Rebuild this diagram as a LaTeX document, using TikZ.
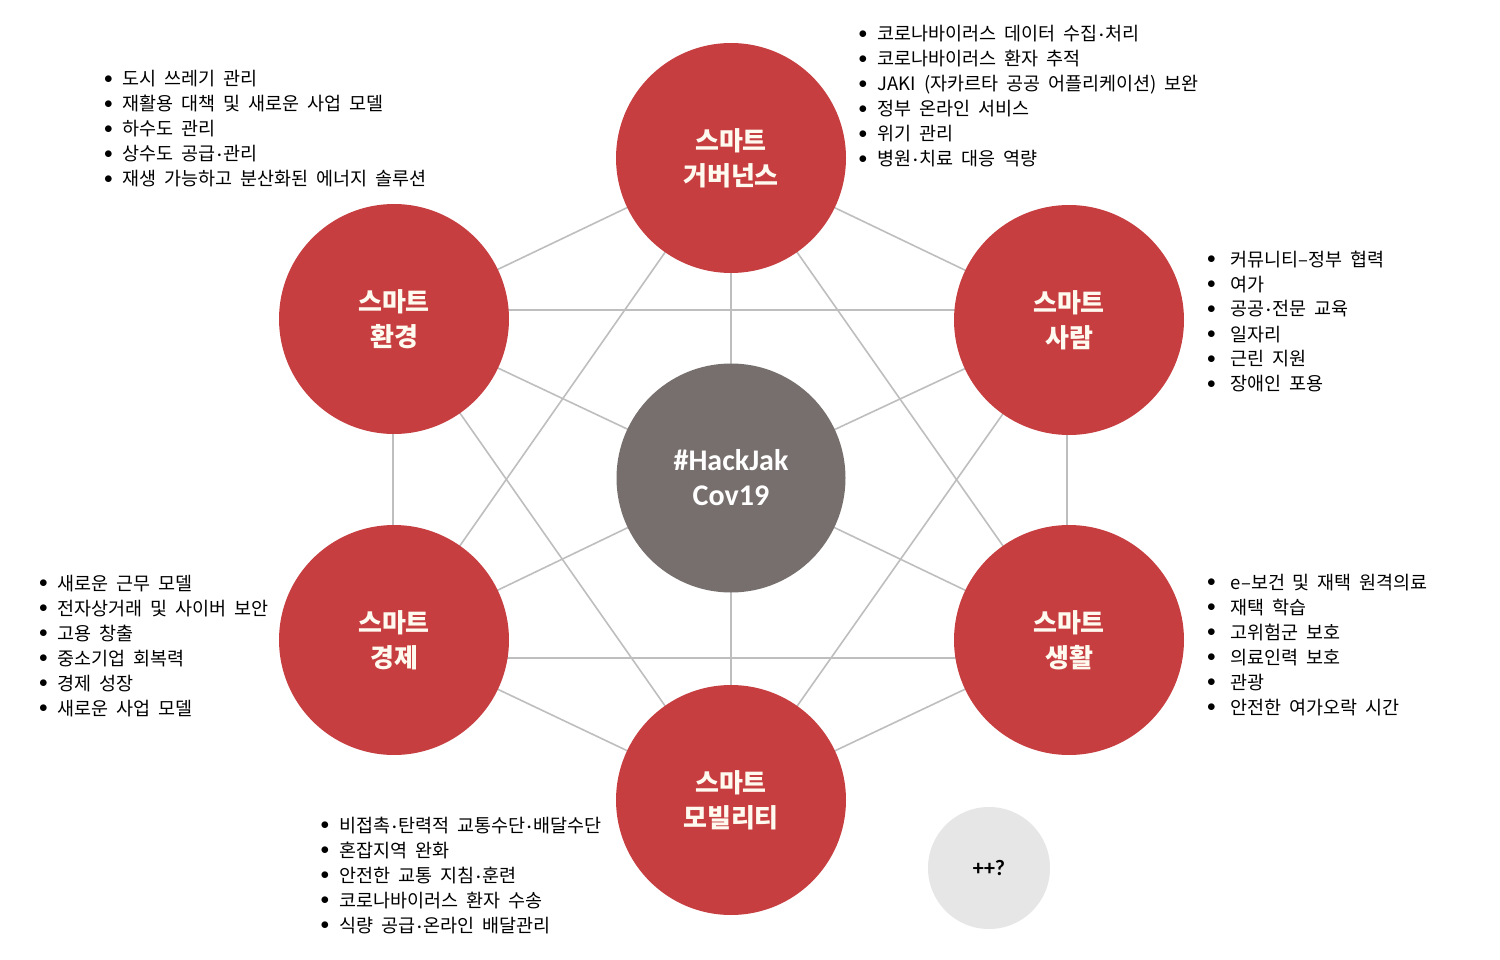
\documentclass[tikz,border=0pt]{standalone}
\usepackage{fontspec}
\setmainfont{Noto Sans CJK KR}
\newfontfamily\listfont[WordSpace=1.9]{Noto Sans CJK KR}
\newfontfamily\latinf{Carlito}
\usetikzlibrary{backgrounds}
\definecolor{smartred}{RGB}{199,62,65}
\definecolor{hubgray}{RGB}{118,111,109}
\definecolor{morefill}{RGB}{230,230,230}
\definecolor{linegray}{RGB}{190,190,190}
\definecolor{cream}{RGB}{255,250,240}
\tikzset{
  hubnode/.style={circle, fill=hubgray, minimum size=229pt, inner sep=0pt, text=white,
    font=\latinf\bfseries\fontsize{30}{35}\selectfont, align=center},
  smart/.style={circle, fill=smartred, minimum size=230pt, inner sep=0pt, text=cream,
    font=\bfseries\fontsize{26}{35}\selectfont, align=center},
  morenode/.style={circle, fill=morefill, minimum size=122pt, inner sep=0pt, text=black,
    font=\latinf\bfseries\fontsize{22}{26}\selectfont},
  link/.style={draw=linegray, line width=1.6pt},
  blist/.style={anchor=base west, inner sep=0pt, outer sep=0pt, text=black,
    font=\listfont\fontsize{18.5}{25}\selectfont},
}
\newcommand\bul{\raisebox{2.5pt}{$\bullet$}}
\newcommand\md{\hspace{1.5pt}{\latinf ·}\hspace{1.5pt}}
\begin{document}
\begin{tikzpicture}[x=1pt,y=-1pt]
\useasboundingbox (0,0) rectangle (1500,960);

\node[smart] (gov) at (731,158) {스마트\\거버넌스};
\node[smart] (env) at (394,319) {스마트\\환경};
\node[smart] (ppl) at (1069,320) {스마트\\사람};
\node[smart] (eco) at (394,640) {스마트\\경제};
\node[smart] (life) at (1069,640) {스마트\\생활};
\node[smart] (mob) at (731,800) {스마트\\모빌리티};
\node[hubnode] (hub) at (731,478) {\#HackJak\\Cov19};
\node[morenode] (more) at (989,868) {++?};

\begin{scope}[on background layer]
  \fill[white] (0,0) rectangle (1500,960);
  % hexagon edges
  \draw[link] (gov.center) -- (env.center);
  \draw[link] (gov.center) -- (ppl.center);
  \draw[link] ([xshift=-1pt]env.center) -- ([xshift=-1pt]eco.center);
  \draw[link] ([xshift=-2pt]ppl.center) -- ([xshift=-2pt]life.center);
  \draw[link] (eco.center) -- (mob.center);
  \draw[link] (life.center) -- (mob.center);
  % second neighbours
  \draw[link] (gov.center) -- (eco.center);
  \draw[link] (gov.center) -- (life.center);
  \draw[link] (env.center) -- (mob.center);
  \draw[link] (ppl.center) -- (mob.center);
  \draw[link] ([yshift=9pt]env.center) -- ([yshift=10pt]ppl.center);
  \draw[link] ([yshift=-18pt]eco.center) -- ([yshift=-18pt]life.center);
  % hub spokes
  \draw[link] (hub.center) -- (gov.center);
  \draw[link] (hub.center) -- (mob.center);
  \draw[link] (hub.center) -- (env.center);
  \draw[link] (hub.center) -- (ppl.center);
  \draw[link] (hub.center) -- (eco.center);
  \draw[link] (hub.center) -- (life.center);
\end{scope}

\node[blist] (govlist) at (858.5,41) {\begin{tabular}[t]{@{}l@{\hspace{10.5pt}}l@{}}
\bul & 코로나바이러스 데이터 수집\md 처리\\
\bul & 코로나바이러스 환자 추적\\
\bul & JAKI (자카르타 공공 어플리케이션) 보완\\
\bul & 정부 온라인 서비스\\
\bul & 위기 관리\\
\bul & 병원\md 치료 대응 역량
\end{tabular}};

\node[blist] (envlist) at (104,86) {\begin{tabular}[t]{@{}l@{\hspace{10pt}}l@{}}
\bul & 도시 쓰레기 관리\\
\bul & 재활용 대책 및 새로운 사업 모델\\
\bul & 하수도 관리\\
\bul & 상수도 공급\md 관리\\
\bul & 재생 가능하고 분산화된 에너지 솔루션
\end{tabular}};

\node[blist] (ppllist) at (1207,266) {\begin{tabular}[t]{@{}l@{\hspace{15pt}}l@{}}
\bul & 커뮤니티–정부 협력\\
\bul & 여가\\
\bul & 공공\md 전문 교육\\
\bul & 일자리\\
\bul & 근린 지원\\
\bul & 장애인 포용
\end{tabular}};

\node[blist] (ecolist) at (39,590) {\begin{tabular}[t]{@{}l@{\hspace{10pt}}l@{}}
\bul & 새로운 근무 모델\\
\bul & 전자상거래 및 사이버 보안\\
\bul & 고용 창출\\
\bul & 중소기업 회복력\\
\bul & 경제 성장\\
\bul & 새로운 사업 모델
\end{tabular}};

\node[blist] (lifelist) at (1207,589) {\begin{tabular}[t]{@{}l@{\hspace{15pt}}l@{}}
\bul & e–보건 및 재택 원격의료\\
\bul & 재택 학습\\
\bul & 고위험군 보호\\
\bul & 의료인력 보호\\
\bul & 관광\\
\bul & 안전한 여가오락 시간
\end{tabular}};

\node[blist] (moblist) at (320.5,832) {\begin{tabular}[t]{@{}l@{\hspace{10.5pt}}l@{}}
\bul & 비접촉\md 탄력적 교통수단\md 배달수단\\
\bul & 혼잡지역 완화\\
\bul & 안전한 교통 지침\md 훈련\\
\bul & 코로나바이러스 환자 수송\\
\bul & 식량 공급\md 온라인 배달관리
\end{tabular}};
\end{tikzpicture}
\end{document}
